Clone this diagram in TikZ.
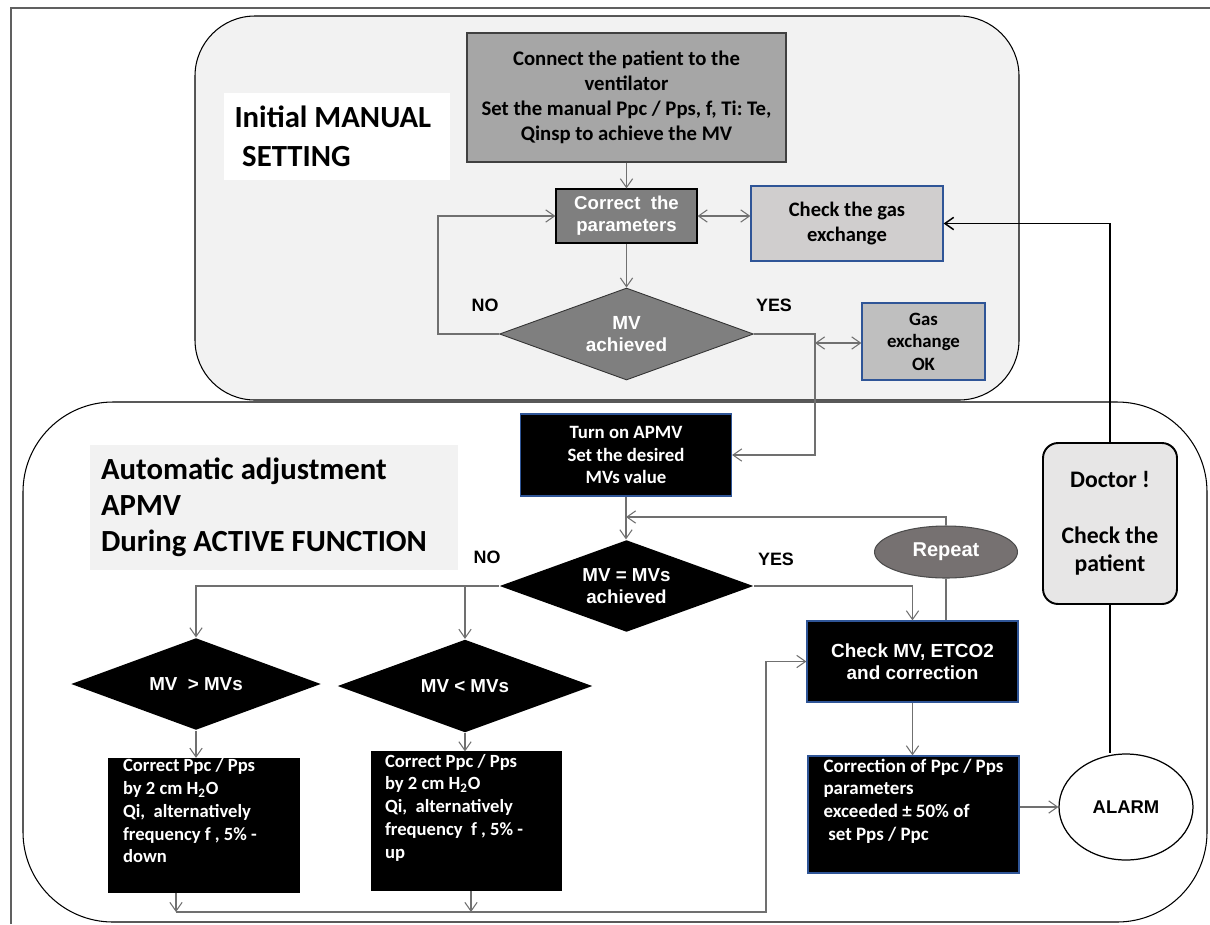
\documentclass[tikz,border=0pt]{standalone}
\usepackage{fontspec}
\setmainfont{Carlito}
\newfontfamily\arialfont{Liberation Sans}
\frenchspacing
\usetikzlibrary{shapes.geometric,arrows.meta}
\definecolor{panelgray}{HTML}{F2F2F2}
\definecolor{midgray}{HTML}{A6A6A6}
\definecolor{boxgray}{HTML}{7F7F7F}
\definecolor{lightbox}{HTML}{D0CECE}
\definecolor{okgray}{HTML}{BFBFBF}
\definecolor{blueline}{HTML}{2F5597}
\definecolor{repgray}{HTML}{767171}
\definecolor{docgray}{HTML}{E7E6E6}
\definecolor{linegray}{HTML}{707070}
\definecolor{framegray}{HTML}{606060}
\begin{document}
\begin{tikzpicture}[x=0.02cm, y=-0.02cm, >={Straight Barb[length=5pt,width=7pt]}]
		\useasboundingbox (0,0) rectangle (1210,924);
		\draw[framegray, line width=0.9pt] (11,924) -- (11,8) -- (1210,8);
		\draw[line width=0.6pt, rounded corners=1.8cm] (23,402) rectangle (1207,922);
		\draw[fill=panelgray, line width=0.6pt, rounded corners=1.2cm] (195,16) rectangle (1019,400);

		\begin{scope}[every node/.style={align=flush left, inner ysep=0pt, font=\bfseries\fontsize{17.5}{22}\selectfont}]
			\node (mantitle)[fill=white, text width=4.1cm, inner xsep=0.21cm, minimum height=1.74cm] at (337,136.5) {Initial MANUAL\\\hspace{0.25em}SETTING};
			\node (autotitle)[fill=panelgray, text width=6.92cm, inner xsep=0.22cm, minimum height=2.5cm, font=\bfseries\fontsize{17.5}{20.5}\selectfont] at (274,507.5) {Automatic adjustment\\APMV\\During ACTIVE FUNCTION};
		\end{scope}
		\begin{scope}[every node/.style={align=center, inner sep=0pt, line width=0.7pt, font=\bfseries\fontsize{10.7}{12.8}\selectfont}]
			\node (connect)[draw=black!75, fill=midgray, minimum width=6.38cm, minimum height=2.58cm, font=\bfseries\fontsize{11.8}{14.2}\selectfont] at (626.5,97.5) {Connect the patient to the\\ventilator\\Set the manual Ppc / Pps, f, Ti: Te,\\Qinsp to achieve the MV};
			\node (correct)[draw=black, fill=boxgray, text=white, minimum width=2.82cm, minimum height=1.08cm, font=\arialfont\bfseries\fontsize{10.6}{12.5}\selectfont] at (626.5,216) {Correct\ \ the\\parameters};
			\node (checkgas)[draw=blueline, fill=lightbox, minimum width=3.84cm, minimum height=1.5cm, font=\bfseries\fontsize{11.7}{14}\selectfont] at (847,223.5) {Check the gas\\exchange};
			\node (mvach)[diamond, aspect=2.7, draw=black!80, line width=0.5pt, fill=boxgray, text=white, minimum width=5.08cm, minimum height=1.84cm, font=\arialfont\bfseries\fontsize{10.8}{13}\selectfont] at (626.5,334) {MV\\achieved};
			\node (gasok)[draw=blueline, fill=okgray, minimum width=2.46cm, minimum height=1.54cm] at (923.5,341.5) {Gas\\exchange\\OK};
		\end{scope}
		\begin{scope}[every node/.style={draw=blueline, fill=black, text=white, inner sep=0pt, line width=0.7pt, font=\bfseries\fontsize{10.7}{12.8}\selectfont}]
			\node (turnon)[align=center, minimum width=4.22cm, minimum height=1.64cm] at (626,455) {Turn on APMV\\Set the desired\\MVs value};
			\node (mveq)[diamond, draw=none, aspect=2.7, align=center, minimum width=5.08cm, minimum height=1.84cm, font=\arialfont\bfseries\fontsize{10.7}{12.5}\selectfont] at (626.5,586) {MV = MVs\\achieved};
			\node (mvgt)[diamond, draw=none, aspect=2.7, minimum width=5cm, minimum height=1.84cm, font=\arialfont\bfseries\fontsize{10.7}{12.5}\selectfont] at (196,684) {MV\ \ > MVs};
			\node (mvlt)[diamond, draw=none, aspect=2.7, minimum width=5.1cm, minimum height=1.86cm, font=\arialfont\bfseries\fontsize{10.7}{12.5}\selectfont] at (465,686) {MV < MVs};
			\node (down)[draw=black, align=flush left, text width=3.24cm, inner xsep=0.28cm, minimum height=2.66cm, font=\bfseries\fontsize{10.6}{13}\selectfont] at (204,825.5) {Correct Ppc / Pps\\by 2 cm H\textsubscript{2}O\\Qi,\ \ alternatively\\frequency f , 5\% -\\down\\\strut};
			\node (up)[draw=black, align=flush left, text width=3.26cm, inner xsep=0.26cm, minimum height=2.76cm, font=\bfseries\fontsize{10.6}{13}\selectfont] at (466.5,821) {Correct Ppc / Pps\\by 2 cm H\textsubscript{2}O\\Qi,\ \ alternatively\\frequency\ \ f , 5\% -\\up\\\strut};
			\node (checkmv)[align=center, minimum width=4.22cm, minimum height=1.62cm, font=\arialfont\bfseries\fontsize{10.8}{12.5}\selectfont] at (912.5,661.5) {Check MV, ETCO2\\and correction};
			\node (corrpar)[align=left, minimum width=4.22cm, minimum height=2.34cm, font=\bfseries\fontsize{10.8}{13}\selectfont] at (913.5,814.5) {Correction of Ppc / Pps\\parameters\\exceeded ± 50\% of\\\hspace{0.25em}set Pps / Ppc\\\strut};
		\end{scope}
		\node (repeat)[ellipse, draw=black!70, fill=repgray, text=white, line width=0.6pt, minimum width=2.86cm, minimum height=1.04cm, inner sep=0pt, font=\arialfont\bfseries\fontsize{11.4}{13}\selectfont] at (946,552) {Repeat};
		\node (alarm)[ellipse, draw=black, fill=white, line width=0.7pt, minimum width=2.68cm, minimum height=2.12cm, inner sep=0pt, font=\arialfont\bfseries\fontsize{10.5}{12}\selectfont] at (1126,807) {ALARM};
		\node (doctor)[draw=black, fill=docgray, rounded corners=0.3cm, line width=1.1pt, align=center, minimum width=2.68cm, minimum height=3.22cm, inner sep=0pt, font=\bfseries\fontsize{13.5}{16}\selectfont] at (1110,523.5) {Doctor !\\[16pt]Check the\\patient};
		\begin{scope}[every node/.style={inner sep=0pt, font=\arialfont\bfseries\fontsize{10.2}{12}\selectfont}]
			\node (no1) at (485,305) {NO};
			\node (yes1) at (774,305) {YES};
			\node (no2) at (487,557) {NO};
			\node (yes2) at (776,559) {YES};
		\end{scope}

		\coordinate (noturn) at (438,334);
		\coordinate (yesturn) at (815,334);
		\coordinate (okleft) at (815,343);
		\coordinate (repin) at (626,517);
		\coordinate (nobranch) at (465,586);
		\coordinate (outdown) at (176,912);
		\coordinate (outup) at (471,912);
		\coordinate (backup) at (766,912);
		\begin{scope}[linegray, line width=0.6pt, every edge/.style={draw, linegray, line width=0.6pt}]
			\path [->] (connect.south) edge (correct.north);
			\path [<->] (correct.east) edge (correct.east -| checkgas.west);
			\path [->] (correct.south) edge (mvach.north);
			\draw [->] (mvach.west) -- (noturn) |- (correct.west);
			\draw [->] (mvach.east) -- (yesturn) |- (turnon.east);
			\path [<->] (okleft) edge (okleft -| gasok.west);
			\path [->] (turnon.south) edge (turnon.south |- mveq.north);
			\draw (repeat.south) -- (repeat.south |- checkmv.north);
			\draw [->] (repeat.north) |- (repin);
			\draw [->] (mveq.east) -| (checkmv.north);
			\draw [->] (mveq.west) -| (mvgt.north);
			\path [->] (nobranch) edge (mvlt.north);
			\path [->] (mvgt.south) edge (mvgt.south |- down.north);
			\path [->] (mvlt.south) edge (mvlt.south |- up.north);
			\path [->] (down.south -| outdown) edge (outdown);
			\path [->] (up.south -| outup) edge (outup);
			\draw [->] (outdown) -- (backup) |- (checkmv.west);
			\path [->] (checkmv.south) edge (checkmv.south |- corrpar.north);
			\path [->] (corrpar.east |- alarm.west) edge (alarm.west);
		\end{scope}
		\begin{scope}[black, line width=0.85pt]
			\draw (doctor.south) -- (doctor.south |- alarm.north);
			\draw [->] (doctor.north) |- (checkgas.east);
		\end{scope}
	\end{tikzpicture}
\end{document}
